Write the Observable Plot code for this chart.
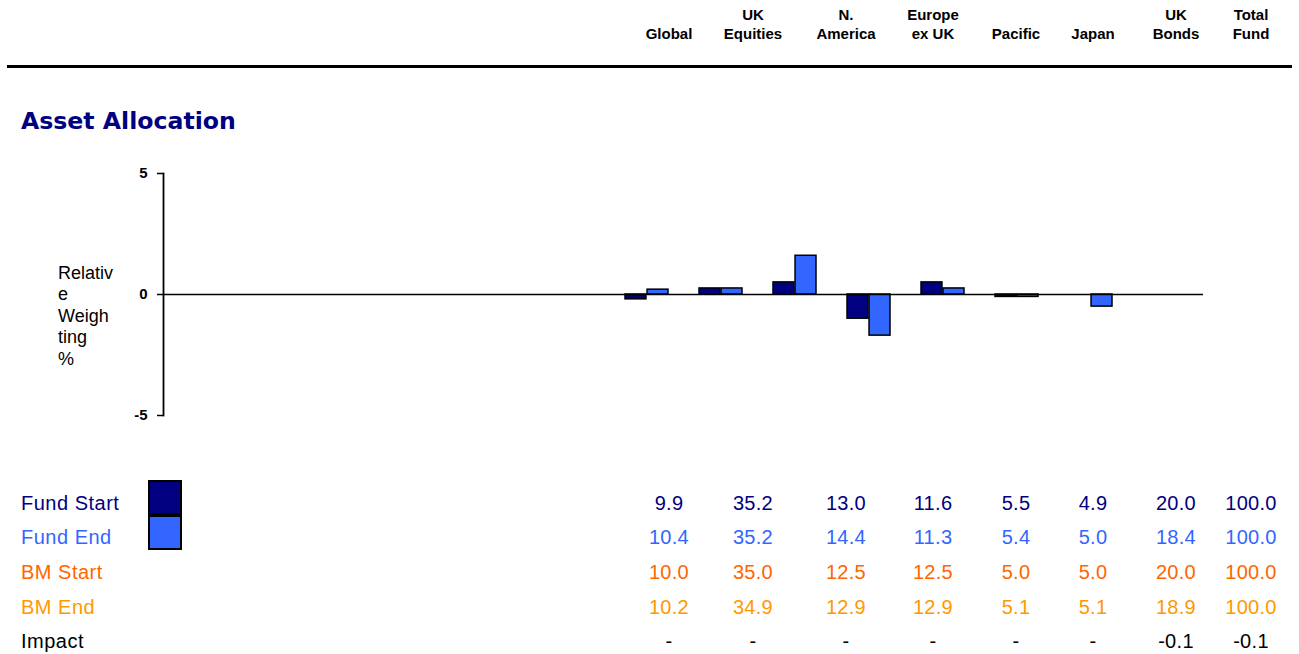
<!DOCTYPE html>
<html>
<head>
<meta charset="utf-8">
<script src="https://cdn.jsdelivr.net/npm/d3@7"></script>
<script src="https://cdn.jsdelivr.net/npm/@observablehq/plot@0.6"></script>
<style>
  body { margin: 0; background: #fff; font-family: "Liberation Sans", Arial, sans-serif; }
  #page { position: relative; width: 1299px; height: 654px; overflow: hidden; background: #fff; }
  .head {
    position: absolute; top: 5px; width: 120px; height: 38.6px;
    display: flex; flex-direction: column; justify-content: flex-end;
    text-align: center; font-weight: bold; font-size: 15px; line-height: 19.3px;
    white-space: pre-line; color: #000;
  }
  #rule { position: absolute; left: 7px; top: 65px; width: 1285px; height: 3px; background: #000; }
  #title {
    position: absolute; left: 21px; top: 109.5px; font-family: "DejaVu Sans", sans-serif;
    font-weight: bold; font-size: 23.6px; line-height: 23.6px; color: #000080; white-space: nowrap;
  }
  #ylabel { position: absolute; left: 58px; top: 263px; font-size: 18px; line-height: 21.4px; color: #000; }
  #chart { position: absolute; left: 0; top: 150px; }
  .rowlabel, .cell { position: absolute; font-size: 20px; line-height: 20px; white-space: nowrap; }
  .rowlabel { letter-spacing: 0.5px; }
  .cell { width: 100px; text-align: center; letter-spacing: 0.3px; }
  .swatch { position: absolute; left: 148px; width: 30px; border: 2px solid #000; }
</style>
</head>
<body>
<div id="page">
  <div id="rule"></div>
  <div id="title">Asset Allocation</div>
  <div id="ylabel">Relativ<br>e<br>Weigh<br>ting<br>%</div>
  <div id="chart"></div>
</div>
<script>
// Asset classes (header text breaks where the column heading wraps)
const categoryHeaders = ["Global", "UK\nEquities", "N.\nAmerica", "Europe\nex UK", "Pacific", "Japan", "UK\nBonds", "Total\nFund"];
const categories = categoryHeaders.map(s => s.replace("\n", " "));

// Relative weighting (fund minus benchmark), %
const fundStartRelative = [-0.2, 0.25, 0.5, -1.0, 0.5, -0.1, 0.0, 0.0];
const fundEndRelative   = [ 0.2, 0.25, 1.6, -1.7, 0.25, -0.1, -0.5, 0.0];

// Allocation table, %
const fundStart = ["9.9", "35.2", "13.0", "11.6", "5.5", "4.9", "20.0", "100.0"];
const fundEnd   = ["10.4", "35.2", "14.4", "11.3", "5.4", "5.0", "18.4", "100.0"];
const bmStart   = ["10.0", "35.0", "12.5", "12.5", "5.0", "5.0", "20.0", "100.0"];
const bmEnd     = ["10.2", "34.9", "12.9", "12.9", "5.1", "5.1", "18.9", "100.0"];
const impact    = ["-", "-", "-", "-", "-", "-", "-0.1", "-0.1"];

const yTicks = [-5, 0, 5];

// Layout
const columnCenters = [669, 753, 846, 933, 1016, 1093, 1176, 1251];
const rowTops = [492.6, 527.3, 562, 596.7, 631.4];
const leadingSlots = 6; // empty bands on the left of the chart

const colors = { fundStart: "#000080", fundEnd: "#3366ff", bmStart: "#ff6600", bmEnd: "#ff9900", impact: "#000000" };

const page = document.getElementById("page");

// Column headings
categoryHeaders.forEach((h, i) => {
  const d = document.createElement("div");
  d.className = "head";
  d.style.left = (columnCenters[i] - 60) + "px";
  d.textContent = h;
  page.appendChild(d);
});

// Table rows
const rows = [
  { label: "Fund Start", values: fundStart, color: colors.fundStart },
  { label: "Fund End", values: fundEnd, color: colors.fundEnd },
  { label: "BM Start", values: bmStart, color: colors.bmStart },
  { label: "BM End", values: bmEnd, color: colors.bmEnd },
  { label: "Impact", values: impact, color: colors.impact }
];
rows.forEach((r, ri) => {
  const l = document.createElement("div");
  l.className = "rowlabel";
  l.style.left = "21px";
  l.style.top = rowTops[ri] + "px";
  l.style.color = r.color;
  l.textContent = r.label;
  page.appendChild(l);
  r.values.forEach((v, ci) => {
    const c = document.createElement("div");
    c.className = "cell";
    c.style.left = (columnCenters[ci] - 50) + "px";
    c.style.top = rowTops[ri] + "px";
    c.style.color = r.color;
    c.textContent = v;
    page.appendChild(c);
  });
});

// Legend swatches for the two fund series
[[480, colors.fundStart], [515, colors.fundEnd]].forEach(([top, fill]) => {
  const s = document.createElement("div");
  s.className = "swatch";
  s.style.top = top + "px";
  s.style.height = "31px";
  s.style.background = fill;
  page.appendChild(s);
});

// Bar chart of relative weightings
const startBars = categories.map((c, i) => ({ category: c, value: fundStartRelative[i] }));
const endBars = categories.map((c, i) => ({ category: c, value: fundEndRelative[i] }));
const slots = [...d3.range(leadingSlots).map(i => `slot-${i}`), ...categories];

const width = 1299, marginLeft = 163, marginRight = 96;
const paddingInner = 0.42;
const step = (width - marginLeft - marginRight) / slots.length;
const half = step * (1 - paddingInner) / 2;

const chart = Plot.plot({
  width,
  height: 290,
  marginTop: 23,
  marginBottom: 25,
  marginLeft,
  marginRight,
  style: { fontFamily: "'Liberation Sans', Arial, sans-serif", fontSize: "15px", color: "#000", background: "transparent", overflow: "visible" },
  x: { domain: slots, paddingInner, paddingOuter: paddingInner / 2, axis: null },
  y: { domain: [-5, 5], axis: null },
  marks: [
    Plot.barY(startBars, { x: "category", y: "value", fill: colors.fundStart, stroke: "#000", strokeWidth: 1.5, insetRight: half + 0.5 }),
    Plot.barY(endBars, { x: "category", y: "value", fill: colors.fundEnd, stroke: "#000", strokeWidth: 1.5, insetLeft: half + 0.5 }),
    Plot.ruleY([0], { stroke: "#000", strokeWidth: 1.5 }),
    Plot.frame({ anchor: "left", stroke: "#000", strokeWidth: 1.8 }),
    Plot.axisY({ ticks: yTicks, tickSize: 6, tickPadding: 10, tickFormat: d => `${d}`, label: null, strokeWidth: 1.5, fontSize: 15, fontWeight: "bold" })
  ]
});
document.getElementById("chart").appendChild(chart);
</script>
</body>
</html>
